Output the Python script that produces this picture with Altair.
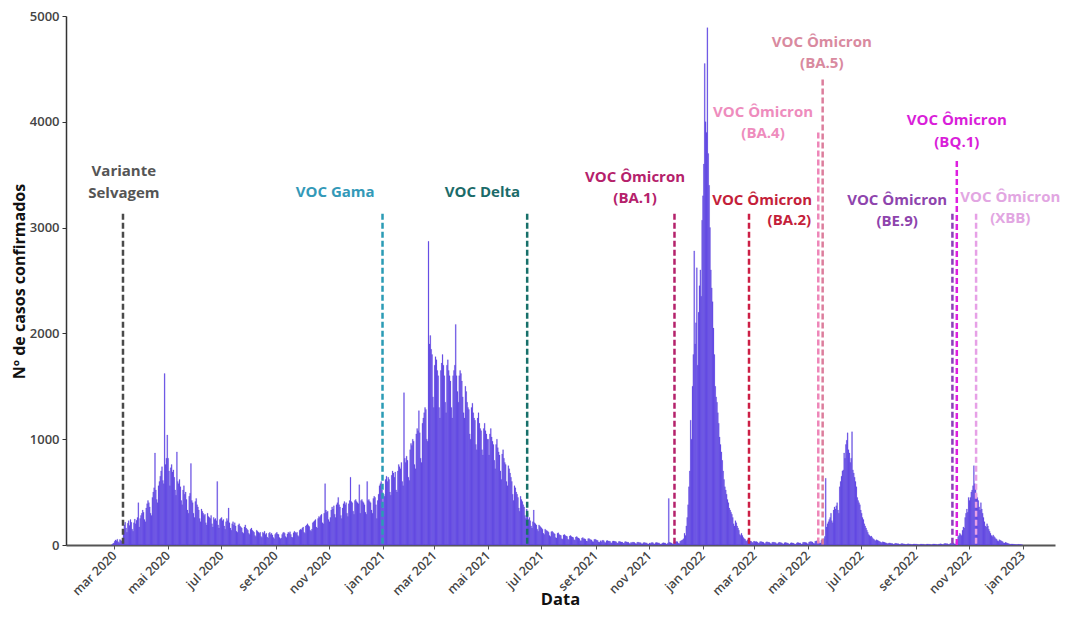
import altair as alt
import pandas as pd

# ---- daily confirmed cases, one list per month ----
fev_2020 = [4, 12, 18]  # starts 2020-02-27
mar_2020 = [35, 48, 40, 55, 30, 22, 52, 44, 38, 58, 145, 190, 215, 160, 120, 205, 230, 185, 240, 215,
            150, 130, 210, 245, 200, 235, 260, 400, 170, 250, 280]
abr_2020 = [300, 330, 310, 240, 220, 350, 390, 420, 400, 360, 300, 280, 450, 500, 540, 870, 520, 430, 400, 560,
            600, 650, 700, 740, 610, 580, 1620, 760, 820, 1040]
mai_2020 = [820, 700, 560, 730, 760, 690, 710, 640, 520, 470, 880, 600, 580, 620, 550, 420, 380, 520, 560, 480,
            500, 430, 330, 300, 460, 490, 770, 420, 400, 300, 260]
jun_2020 = [410, 440, 380, 360, 330, 250, 220, 340, 320, 300, 280, 290, 210, 190, 300, 270, 260, 250, 280, 200,
            170, 260, 240, 250, 230, 600, 190, 160, 240, 250]
jul_2020 = [260, 230, 240, 180, 150, 220, 250, 230, 350, 210, 160, 140, 200, 220, 190, 210, 180, 130, 120, 190,
            200, 180, 170, 160, 120, 110, 170, 190, 160, 150, 140]
ago_2020 = [110, 100, 150, 160, 140, 130, 120, 90, 80, 140, 130, 120, 110, 120, 80, 70, 120, 110, 130, 100,
            110, 75, 65, 110, 120, 100, 110, 95, 70, 60, 100]
set_2020 = [110, 120, 105, 100, 70, 60, 65, 100, 115, 120, 110, 80, 70, 105, 120, 110, 125, 100, 75, 70,
            115, 130, 120, 110, 120, 90, 80, 140, 150, 145]
out_2020 = [160, 170, 120, 110, 180, 190, 200, 185, 175, 140, 130, 150, 210, 220, 230, 240, 170, 160, 250, 270,
            260, 280, 290, 210, 200, 300, 580, 330, 310, 320, 240]
nov_2020 = [220, 260, 330, 360, 340, 370, 290, 260, 380, 400, 450, 380, 360, 280, 250, 350, 390, 410, 380, 400,
            300, 270, 390, 420, 640, 410, 400, 320, 290, 420]
dez_2020 = [430, 410, 400, 390, 570, 300, 420, 430, 410, 400, 380, 310, 290, 600, 420, 430, 410, 400, 330, 300,
            440, 460, 450, 380, 250, 420, 480, 560, 580, 600, 520]
jan_2021 = [350, 480, 460, 620, 650, 600, 640, 620, 500, 470, 660, 700, 680, 640, 690, 520, 500, 700, 760, 740,
            720, 780, 600, 560, 1440, 820, 780, 840, 800, 640, 610]
fev_2021 = [900, 960, 940, 1000, 980, 760, 720, 1050, 1100, 1080, 1270, 1060, 820, 780, 1150, 1200, 1250, 1300,
            1280, 1000, 980, 2870, 1900, 1980, 1850, 1800, 1400, 1300]
mar_2021 = [1700, 1780, 1750, 1650, 1600, 1300, 1200, 1650, 1720, 1800, 1700, 1600, 1350, 1250, 1700, 1750, 1650,
            1600, 1550, 1300, 1200, 1600, 1650, 1700, 2085, 1600, 1450, 1350, 1600, 1650, 1620]
abr_2021 = [1550, 1400, 1250, 1200, 1500, 1450, 1350, 1300, 1280, 1050, 1000, 1300, 1340, 1250, 1200, 1180, 950,
            900, 1200, 1250, 1150, 1100, 1080, 900, 850, 1100, 1150, 1080, 1050, 1000]
mai_2021 = [1000, 850, 1050, 1100, 1020, 980, 950, 800, 720, 950, 1000, 920, 880, 850, 700, 620, 860, 900, 820,
            780, 760, 600, 560, 750, 720, 680, 640, 600, 480, 420, 560]
jun_2021 = [540, 500, 480, 450, 350, 320, 460, 430, 410, 380, 360, 280, 250, 340, 300, 240, 260, 230, 180, 160,
            220, 330, 210, 200, 190, 150, 130, 190, 180, 170]
jul_2021 = [160, 150, 110, 100, 150, 140, 135, 130, 120, 90, 80, 125, 130, 120, 110, 105, 70, 65, 110, 115,
            100, 95, 90, 60, 55, 95, 100, 90, 85, 80, 55]
ago_2021 = [50, 85, 90, 80, 75, 70, 50, 45, 75, 80, 70, 65, 60, 40, 40, 65, 70, 60, 58, 55,
            38, 35, 60, 62, 55, 50, 48, 32, 30, 52, 55]
set_2021 = [50, 45, 42, 28, 25, 40, 30, 42, 45, 40, 25, 22, 40, 42, 38, 36, 35, 22, 20, 36,
            38, 35, 33, 30, 20, 18, 32, 34, 30, 28]
out_2021 = [28, 18, 16, 30, 32, 28, 27, 25, 15, 14, 25, 20, 28, 26, 24, 14, 12, 25, 27, 24,
            22, 22, 12, 11, 22, 24, 22, 20, 20, 10, 10]
nov_2021 = [18, 15, 22, 24, 22, 12, 10, 22, 24, 22, 20, 20, 10, 9, 12, 20, 22, 20, 19, 10,
            9, 20, 440, 25, 22, 20, 12, 10, 25, 28]
dez_2021 = [30, 32, 30, 16, 14, 35, 40, 45, 50, 60, 110, 90, 180, 260, 380, 550, 700, 1180, 1000, 1500,
            1800, 2780, 1900, 2100, 2620, 1700, 2200, 2450, 2600, 2350, 3070]
jan_2022 = [3300, 3600, 4550, 4000, 3900, 4890, 3700, 3400, 3000, 2600, 2430, 2300, 2050, 1800, 1500, 1400, 1350,
            1250, 1150, 1020, 950, 880, 800, 700, 620, 550, 520, 480, 430, 400, 350]
fev_2022 = [330, 310, 290, 260, 200, 180, 230, 210, 180, 160, 140, 100, 90, 110, 90, 70, 60, 55, 40, 35,
            50, 45, 40, 38, 35, 25, 22, 35]
mar_2022 = [35, 30, 32, 28, 20, 18, 30, 32, 30, 28, 26, 15, 14, 28, 30, 27, 25, 24, 14, 12,
            25, 27, 25, 24, 22, 12, 11, 22, 25, 24, 22]
abr_2022 = [20, 12, 10, 22, 24, 22, 20, 18, 10, 9, 20, 22, 20, 18, 12, 8, 8, 20, 24, 22,
            18, 20, 10, 9, 24, 26, 25, 24, 22, 12]
mai_2022 = [11, 28, 30, 32, 30, 28, 16, 14, 35, 38, 40, 38, 36, 20, 18, 45, 50, 55, 60, 80,
            630, 170, 200, 220, 240, 260, 300, 230, 210, 330, 360]
jun_2022 = [340, 370, 400, 330, 300, 550, 600, 650, 700, 710, 870, 820, 950, 990, 1060, 900, 870, 780, 820, 1070,
            710, 680, 640, 600, 550, 450, 420, 400, 380, 330]
jul_2022 = [300, 260, 240, 200, 180, 160, 140, 120, 100, 90, 80, 85, 70, 60, 55, 45, 40, 50, 45, 40,
            35, 30, 25, 22, 30, 28, 25, 22, 20, 15, 12]
ago_2022 = [18, 20, 16, 15, 14, 8, 7, 15, 16, 14, 12, 12, 6, 5, 12, 14, 12, 10, 10, 5,
            4, 10, 12, 10, 9, 8, 4, 4, 9, 10, 9]
set_2022 = [8, 8, 4, 3, 3, 8, 9, 8, 7, 7, 3, 3, 8, 9, 8, 7, 6, 3, 3, 8,
            10, 9, 8, 7, 3, 3, 9, 10, 11, 10]
out_2022 = [5, 4, 12, 14, 13, 12, 11, 5, 4, 14, 16, 15, 18, 20, 10, 9, 30, 40, 80, 90,
            110, 100, 90, 140, 170, 160, 260, 300, 340, 310, 450]
nov_2022 = [420, 450, 500, 520, 560, 750, 580, 540, 480, 450, 420, 360, 330, 400, 340, 300, 260, 220, 180, 170,
            200, 180, 150, 130, 110, 90, 80, 95, 80, 70]
dez_2022 = [60, 55, 40, 35, 50, 45, 40, 35, 30, 20, 18, 25, 22, 18, 15, 12, 8, 7, 10, 9,
            8, 6, 5, 4, 3, 5, 6, 5, 4, 3, 2]

month_starts = ["2020-02-27", "2020-03-01", "2020-04-01", "2020-05-01", "2020-06-01", "2020-07-01",
                "2020-08-01", "2020-09-01", "2020-10-01", "2020-11-01", "2020-12-01", "2021-01-01",
                "2021-02-01", "2021-03-01", "2021-04-01", "2021-05-01", "2021-06-01", "2021-07-01",
                "2021-08-01", "2021-09-01", "2021-10-01", "2021-11-01", "2021-12-01", "2022-01-01",
                "2022-02-01", "2022-03-01", "2022-04-01", "2022-05-01", "2022-06-01", "2022-07-01",
                "2022-08-01", "2022-09-01", "2022-10-01", "2022-11-01", "2022-12-01"]
month_values = [fev_2020, mar_2020, abr_2020, mai_2020, jun_2020, jul_2020, ago_2020, set_2020, out_2020,
                nov_2020, dez_2020, jan_2021, fev_2021, mar_2021, abr_2021, mai_2021, jun_2021, jul_2021,
                ago_2021, set_2021, out_2021, nov_2021, dez_2021, jan_2022, fev_2022, mar_2022, abr_2022,
                mai_2022, jun_2022, jul_2022, ago_2022, set_2022, out_2022, nov_2022, dez_2022]

# ---- variant markers ----
var_names = ["Selvagem", "Gama", "Delta", "BA.1", "BA.2", "BA.4", "BA.5", "BE.9", "BQ.1", "XBB"]
var_dates = ["2020-03-11", "2021-01-01", "2021-06-15", "2021-11-30", "2022-02-23", "2022-05-13",
             "2022-05-18", "2022-10-13", "2022-10-18", "2022-11-09"]
var_tops = [3130, 3130, 3130, 3130, 3130, 3900, 4400, 3130, 3630, 3130]
var_colors = ["#4a4a4a", "#2b9bb5", "#17706a", "#b5216b", "#cc1f45", "#ee86b8", "#dc7d9c",
              "#8c3fb8", "#de1fe0", "#e6a0e6"]

ann_text = ["Variante", "Selvagem", "VOC Gama", "VOC Delta", "VOC Ômicron", "(BA.1)", "VOC Ômicron", "(BA.2)",
            "VOC Ômicron", "(BA.4)", "VOC Ômicron", "(BA.5)", "VOC Ômicron", "(BE.9)", "VOC Ômicron", "(BQ.1)",
            "VOC Ômicron", "(XBB)"]
ann_dates = ["2020-03-12", "2020-03-12", "2020-11-08", "2021-04-25", "2021-10-16", "2021-10-16", "2022-03-10",
             "2022-04-10", "2022-03-11", "2022-03-11", "2022-05-17", "2022-05-17", "2022-08-11", "2022-08-11",
             "2022-10-18", "2022-10-18", "2022-12-18", "2022-12-18"]
ann_values = [3538, 3330, 3335, 3335, 3481, 3283, 3264, 3075, 4094, 3896, 4755, 4557, 3264, 3066,
              4019, 3811, 3292, 3094]
ann_colors = ["#555555", "#555555", "#3399b8", "#1b6b69", "#b5216b", "#b5216b", "#c41e3a", "#c41e3a",
              "#ee8cbd", "#ee8cbd", "#d98a9f", "#d98a9f", "#8e44ad", "#8e44ad", "#d91ed9", "#d91ed9",
              "#e2a6e2", "#e2a6e2"]

tick_months = [(2020, 3), (2020, 5), (2020, 7), (2020, 9), (2020, 11), (2021, 1), (2021, 3), (2021, 5),
               (2021, 7), (2021, 9), (2021, 11), (2022, 1), (2022, 3), (2022, 5), (2022, 7), (2022, 9),
               (2022, 11), (2023, 1)]

# ---- build tables ----
rows = []
for start, vals in zip(month_starts, month_values):
    for dt, v in zip(pd.date_range(start, periods=len(vals), freq="D"), vals):
        rows.append({"date": dt.strftime("%Y-%m-%d"), "casos": v})
cases = pd.DataFrame(rows)

variants = pd.DataFrame({"nome": var_names, "date": var_dates, "top": var_tops, "cor": var_colors})
ann = pd.DataFrame({"txt": ann_text, "date": ann_dates, "v": ann_values, "cor": ann_colors})

FONT = "Open Sans"
xscale = alt.Scale(type="utc",
                   domain=[alt.DateTime(year=2020, month=1, date=6, utc=True),
                           alt.DateTime(year=2023, month=2, date=7, utc=True)])
yscale = alt.Scale(domain=[0, 5000])
month_expr = ("['jan','fev','mar','abr','mai','jun','jul','ago','set','out','nov','dez']"
              "[utcmonth(datum.value)] + ' ' + utcyear(datum.value)")

xaxis = alt.Axis(values=[alt.DateTime(year=y, month=m, date=1, utc=True) for y, m in tick_months],
                 labelExpr=month_expr, labelAngle=-45, labelAlign="right", labelBaseline="middle",
                 labelFont=FONT, labelFontSize=12.5, labelFontWeight=600, labelColor="#444444", labelPadding=4,
                 title="Data", titleFont=FONT, titleFontSize=16.5, titleFontWeight="bold", titleColor="#111111",
                 titleX=494, titleY=54, titleAnchor="middle", titleBaseline="middle",
                 domainColor="#555555", domainWidth=2, tickColor="#555555", tickSize=4,
                 grid=False, labelOverlap=False)
yaxis = alt.Axis(values=[0, 1000, 2000, 3000, 4000, 5000], format="d",
                 labelFont=FONT, labelFontSize=13, labelColor="#444444", labelFontWeight=600, labelPadding=3,
                 title="Nº de casos confirmados", titleFont=FONT, titleFontSize=16, titleFontWeight="bold",
                 titleColor="#111111", titleX=-47, titleY=265, titleAnchor="middle", titleBaseline="middle",
                 titleAngle=270,
                 domainColor="#333333", domainWidth=1.5, tickColor="#333333", tickSize=4, grid=False)

day_start = "toDate(datum.date)"
day_end = "toDate(datum.date) + 86400000"

bars = alt.Chart(cases).transform_calculate(t0=day_start, t1=day_end).mark_bar(
    color="#5232E8", stroke="#6a58d8", strokeWidth=0.25
).encode(
    x=alt.X("t0:T", scale=xscale, axis=xaxis),
    x2="t1:T",
    y=alt.Y("casos:Q", scale=yscale, axis=yaxis),
    y2=alt.datum(0),
)

rules = alt.Chart(variants).transform_calculate(t0=day_start).mark_rule(
    strokeDash=[6, 3], strokeWidth=2.5
).encode(
    x=alt.X("t0:T", scale=xscale),
    y=alt.Y("top:Q", scale=yscale),
    y2=alt.datum(0),
    color=alt.Color("cor:N", scale=None),
)

texts = alt.Chart(ann).transform_calculate(t0=day_start).mark_text(
    font=FONT, fontSize=15, fontWeight="bold", align="center", baseline="middle"
).encode(
    x=alt.X("t0:T", scale=xscale),
    y=alt.Y("v:Q", scale=yscale),
    text="txt:N",
    color=alt.Color("cor:N", scale=None),
)

chart = alt.layer(bars, rules, texts).properties(
    width=989, height=529,
    padding={"left": 58, "top": 8, "right": 5, "bottom": 64},
    autosize=alt.AutoSizeParams(type="none"),
    background="white",
).configure_view(stroke=None)

chart.save("out.html", embed_options={"renderer": "svg", "actions": False})
